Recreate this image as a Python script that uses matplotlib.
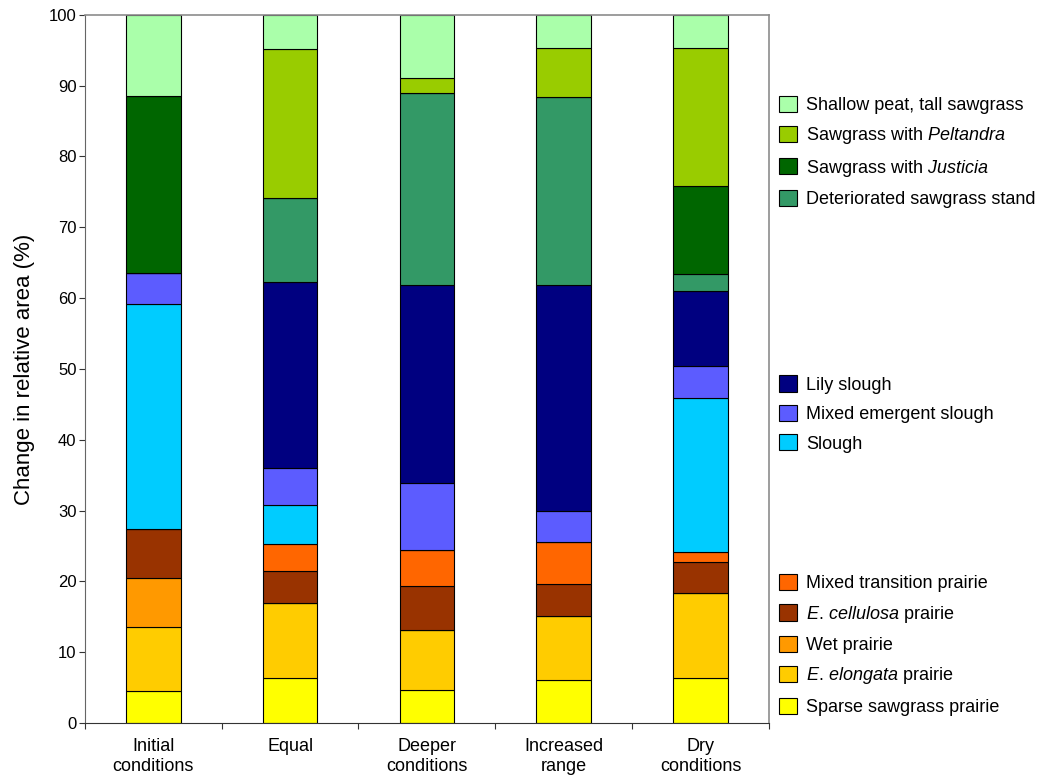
import matplotlib
matplotlib.use("Agg")
import matplotlib.pyplot as plt
from matplotlib.patches import Patch
import numpy as np

plt.rcParams['font.family'] = ['Liberation Sans', 'DejaVu Sans']
plt.rcParams['mathtext.fontset'] = 'custom'
plt.rcParams['mathtext.rm'] = 'Liberation Sans'
plt.rcParams['mathtext.it'] = 'Liberation Sans:italic'

# Scenarios (x categories)
scenarios = ["Initial\nconditions", "Equal", "Deeper\nconditions", "Increased\nrange", "Dry\nconditions"]

sparse_sawgrass = [4.5, 6.4, 4.6, 6.1, 6.4]
e_elongata = [9.0, 10.6, 8.6, 9.0, 11.9]
wet_prairie = [7.0, 0.0, 0.0, 0.0, 0.0]
e_cellulosa = [6.9, 4.4, 6.1, 4.5, 4.4]
mixed_transition = [0.0, 3.9, 5.1, 6.0, 1.4]
slough = [31.7, 5.5, 0.0, 0.0, 21.8]
mixed_emergent = [4.5, 5.2, 9.5, 4.4, 4.5]
lily_slough = [0.0, 26.2, 28.0, 31.9, 10.6]
deteriorated = [0.0, 11.9, 27.1, 26.5, 2.4]
justicia = [25.0, 0.0, 0.0, 0.0, 12.4]
peltandra = [0.0, 21.0, 2.1, 6.9, 19.5]
shallow_peat = [11.4, 4.9, 8.9, 4.7, 4.7]

# bottom-to-top stacking order
series = [
    ("Sparse sawgrass prairie", sparse_sawgrass, "#ffff00"),
    ("$\\it{E.\\,elongata}$ prairie", e_elongata, "#ffcc00"),
    ("Wet prairie", wet_prairie, "#ff9900"),
    ("$\\it{E.\\,cellulosa}$ prairie", e_cellulosa, "#993300"),
    ("Mixed transition prairie", mixed_transition, "#ff6600"),
    ("Slough", slough, "#00ccff"),
    ("Mixed emergent slough", mixed_emergent, "#5c5cff"),
    ("Lily slough", lily_slough, "#000080"),
    ("Deteriorated sawgrass stand", deteriorated, "#339966"),
    ("Sawgrass with $\\it{Justicia}$", justicia, "#006600"),
    ("Sawgrass with $\\it{Peltandra}$", peltandra, "#99cc00"),
    ("Shallow peat, tall sawgrass", shallow_peat, "#aaffaa"),
]

fig = plt.figure(figsize=(10.47, 7.78), dpi=100)
ax = fig.add_axes([0.081, 0.0707, 0.6535, 0.9103])

x = np.arange(len(scenarios))
bottom = np.zeros(len(scenarios))
handles = {}
for label, vals, color in series:
    vals = np.array(vals)
    ax.bar(x, vals, width=0.4, bottom=bottom, color=color, edgecolor="black", linewidth=0.8)
    bottom += vals
    handles[label] = Patch(facecolor=color, edgecolor="black", linewidth=0.8)

ax.set_xlim(-0.5, 4.5)
ax.set_ylim(0, 100)
ax.set_yticks(np.arange(0, 101, 10))
ax.tick_params(axis="y", direction="out", length=4, width=0.8, labelsize=12, pad=2, color="#333333")

# ticks at category boundaries, labels at centres
ax.set_xticks(np.arange(-0.5, 4.6, 1.0))
ax.set_xticklabels([])
ax.tick_params(axis="x", which="major", direction="out", length=4, width=0.8, color="#333333")
ax.set_xticks(x, minor=True)
ax.set_xticklabels(scenarios, minor=True, fontsize=13)
ax.tick_params(axis="x", which="minor", length=0, pad=11)

ax.set_ylabel("Change in relative area (%)", fontsize=16, labelpad=10)

for side in ["top", "right"]:
    ax.spines[side].set_color("#8c8c8c")
    ax.spines[side].set_linewidth(1.2)
ax.spines["left"].set_color("#666666")
ax.spines["bottom"].set_color("#333333")

# legend in three groups
groups = [
    (["Shallow peat, tall sawgrass", "Sawgrass with $\\it{Peltandra}$",
      "Sawgrass with $\\it{Justicia}$", "Deteriorated sawgrass stand"], 1 - 152 / 778),
    (["Lily slough", "Mixed emergent slough", "Slough"], 1 - 414 / 778),
    (["Mixed transition prairie", "$\\it{E.\\,cellulosa}$ prairie", "Wet prairie",
      "$\\it{E.\\,elongata}$ prairie", "Sparse sawgrass prairie"], 1 - 645 / 778),
]
for labels, yc in groups:
    leg = fig.legend([handles[l] for l in labels], labels, loc="center left",
                     bbox_to_anchor=(779 / 1047, yc), frameon=False, fontsize=13,
                     borderpad=0, borderaxespad=0, labelspacing=0.62,
                     handlelength=1.0, handleheight=1.0, handletextpad=0.5)

fig.savefig("out.png", dpi=100)
